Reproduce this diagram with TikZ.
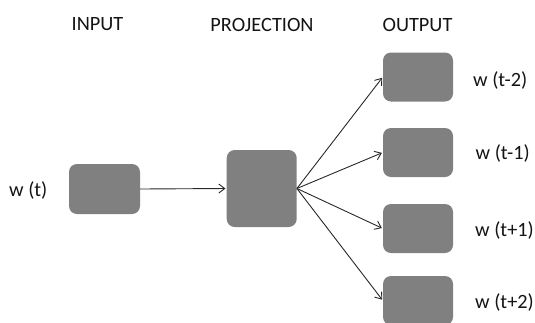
\documentclass[tikz,border=0pt]{standalone}
\usepackage{fontspec}
\setmainfont{Carlito}
\usetikzlibrary{arrows.meta}
\begin{document}
\begin{tikzpicture}[x=1pt,y=-1pt,
  box/.style={fill={rgb,255:red,128;green,128;blue,128}, draw=none, rounded corners=8pt, inner sep=0pt, minimum width=70pt},
  lbl/.style={font=\fontsize{20.3pt}{24pt}\selectfont, inner sep=0pt, text={rgb,255:red,20;green,20;blue,20}},
  conn/.style={draw={rgb,255:red,40;green,40;blue,40}, line width=0.9pt, -{Straight Barb[length=6pt,width=9pt,line width=0.9pt]}, shorten >=1pt}]
\useasboundingbox (0,0) rectangle (535,322);
% headers
\node[lbl] (hin) at (97.5,24.5) {INPUT};
\node[lbl] (hproj) at (262,25) {PROJECTION};
\node[lbl] (hout) at (417.5,24.5) {OUTPUT};
% boxes
\node[box, minimum width=71pt, minimum height=50pt] (in) at (104.5,189) {};
\node[box, minimum height=77pt] (proj) at (261.7,188.5) {};
\node[box, minimum height=49pt] (o1) at (418,77) {};
\node[box, minimum height=49pt] (o2) at (418,152.5) {};
\node[box, minimum height=49pt] (o3) at (418,228.5) {};
\node[box, minimum height=49pt] (o4) at (418,300.5) {};
% labels
\node[lbl] (lin) at (28.3,190.5) {w (t)};
\node[lbl, anchor=west] (l1) at (473,80) {w (t-2)};
\node[lbl, anchor=west] (l2) at (475.5,153) {w (t-1)};
\node[lbl, anchor=west] (l3) at (475,230) {w (t+1)};
\node[lbl, anchor=west] (l4) at (475,302) {w (t+2)};
% connectors
\draw[conn] (in.east) -- (proj.west);
\draw[conn] (proj.east) -- (o1.west);
\draw[conn] (proj.east) -- (o2.west);
\draw[conn] (proj.east) -- (o3.west);
\draw[conn] (proj.east) -- (o4.west);
\end{tikzpicture}
\end{document}
